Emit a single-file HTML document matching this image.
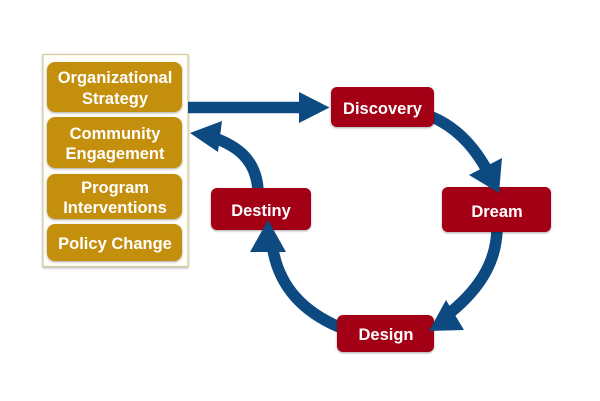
<!DOCTYPE html>
<html><head><meta charset="utf-8"><style>
html,body{margin:0;padding:0;background:#fff}
body{width:600px;height:401px;overflow:hidden}
svg{display:block}
text{font-family:"Liberation Sans",sans-serif;font-weight:700;fill:#fff;text-anchor:middle}
</style></head><body>
<svg width="600" height="401" viewBox="0 0 600 401">
<defs>
<filter id="s" x="-10%" y="-10%" width="120%" height="125%"><feGaussianBlur in="SourceAlpha" stdDeviation="1"/><feOffset dy="1"/><feComponentTransfer><feFuncA type="linear" slope=".35"/></feComponentTransfer><feMerge><feMergeNode/><feMergeNode in="SourceGraphic"/></feMerge></filter>
</defs>
<rect x="43" y="54.500" width="145" height="212" fill="#fffef9" stroke="#d3cba0" stroke-width="1.200" filter="url(#s)"/>
<g fill="none" stroke="#0c4a81" stroke-width="11.500">
<path d="M188 107.500H302"/>
<path d="M258 190C256 160 238 146 212 137"/>
<path d="M432 117C456 127 474 146 488 172"/>
<path d="M497 230C496 262 480 288 451 312"/>
<path d="M339 327C304 312 280 288 273 250"/>
</g>
<g fill="#c48f0a" filter="url(#s)">
<rect x="47" y="62" width="135" height="50" rx="8"/>
<rect x="47" y="117" width="135" height="51" rx="8"/>
<rect x="47" y="174" width="135" height="45" rx="8"/>
<rect x="47" y="224" width="135" height="37" rx="8"/>
</g>
<g fill="#a30014" filter="url(#s)">
<rect x="331" y="87" width="103" height="40" rx="6"/>
<rect x="442" y="187" width="109" height="45" rx="6"/>
<rect x="211" y="188" width="100" height="42" rx="6"/>
<rect x="337" y="315" width="97" height="37" rx="6"/>
</g>
<g fill="#0c4a81">
<polygon points="299,92 329.500,107.500 299,123"/>
<polygon points="190,133 222,121 218,152"/>
<polygon points="502,158 469,175 499,193"/>
<polygon points="446,300 464,330 429,331"/>
<polygon points="268,220 250,252 286,252"/>
</g>
<g font-size="16.500">
<text x="115" y="83">Organizational</text>
<text x="115" y="104">Strategy</text>
<text x="115" y="139">Community</text>
<text x="115" y="159">Engagement</text>
<text x="115" y="193">Program</text>
<text x="115" y="213">Interventions</text>
<text x="115" y="249">Policy Change</text>
<text x="382.500" y="114">Discovery</text>
<text x="497" y="217">Dream</text>
<text x="261" y="216">Destiny</text>
<text x="386" y="340">Design</text>
</g>
</svg>
</body></html>
